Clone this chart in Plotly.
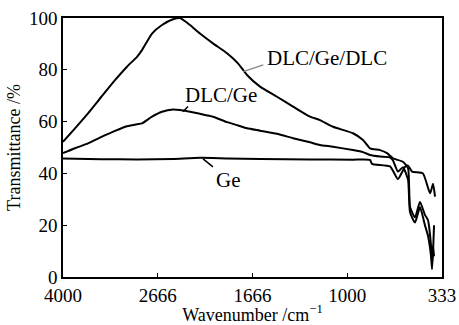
import numpy as np
import plotly.graph_objects as go

# Tick labels (wavenumber, cm^-1), equally spaced on the original axis
tick_wn = [4000, 2666, 1666, 1000, 333]
tick_pos = [0, 1, 2, 3, 4]

# DLC/Ge/DLC
wn_a = [4000, 3831, 3648, 3465, 3268, 3099, 2958, 2888, 2747, 2621, 2505, 2431, 2326, 2220,
        2083, 1935, 1819, 1724, 1613, 1494, 1381, 1262, 1192, 1100, 960, 889, 840, 769, 720,
        678, 608, 572, 558, 523, 488, 453, 432, 410, 403, 396, 389]
t_a = [52.2, 57.4, 63.2, 69.4, 76.0, 81.2, 85.0, 87.6, 94.0, 97.3, 99.5, 100.0, 97.3, 94.0,
       90.2, 86.4, 82.5, 78.0, 73.5, 69.6, 65.8, 61.9, 60.6, 58.0, 55.5, 52.9, 49.7, 49.0, 47.8,
       45.8, 44.5, 42.0, 27.0, 23.0, 29.0, 24.0, 22.0, 12.0, 5.0, 10.0, 20.0]

# DLC/Ge
wn_b = [4000, 3831, 3648, 3465, 3268, 3099, 2958, 2888, 2747, 2621, 2505, 2431, 2326, 2220,
        2083, 1935, 1819, 1724, 1613, 1494, 1381, 1262, 1192, 1100, 960, 889, 840, 769, 699,
        678, 643, 608, 572, 558, 523, 488, 453, 432, 410, 403, 396, 389]
t_b = [47.8, 49.7, 51.6, 54.0, 56.4, 58.2, 59.0, 59.3, 61.9, 63.8, 64.7, 64.5, 63.8, 63.0,
       61.9, 59.8, 58.5, 57.4, 56.5, 55.3, 53.6, 52.0, 51.0, 50.3, 49.0, 48.2, 47.1, 46.5, 46.2,
       45.0, 40.7, 42.4, 37.5, 25.0, 21.0, 27.0, 20.0, 16.0, 8.0, 3.0, 12.0, 8.0]

# Ge
wn_c = [4000, 3465, 2958, 2505, 2220, 1935, 1613, 1262, 960, 840, 826, 699, 643, 593, 572,
        544, 467, 417, 396, 382]
t_c = [45.8, 45.5, 45.4, 45.6, 46.0, 45.8, 45.6, 45.4, 45.3, 45.2, 43.7, 42.7, 37.8, 42.6, 43.0,
       40.7, 40.0, 32.3, 36.0, 31.0]


def pos(wn):
    return np.interp(-np.asarray(wn, dtype=float), -np.asarray(tick_wn, dtype=float), tick_pos)


fig = go.Figure()
for wn, t in [(wn_a, t_a), (wn_b, t_b), (wn_c, t_c)]:
    fig.add_trace(go.Scatter(x=pos(wn), y=t, mode="lines",
                             line=dict(color="black", width=2, shape="spline", smoothing=0.5),
                             showlegend=False, hoverinfo="skip", cliponaxis=False))

tickfont = dict(family="Liberation Serif", size=19, color="black")
tfont = dict(family="Liberation Serif", size=18, color="black")
afont = dict(family="Liberation Serif", size=21, color="black")

fig.add_annotation(x=2.79, y=84.6, text="DLC/Ge/DLC", showarrow=False, font=afont)
fig.add_annotation(x=1.668, y=70.3, text="DLC/Ge", showarrow=False, font=afont)
fig.add_annotation(x=1.747, y=37.5, text="Ge", showarrow=False, font=afont)

fig.add_shape(type="line", x0=1.903, y0=79.3, x1=2.114, y1=81.9,
              line=dict(color="#888888", width=1.5))
fig.add_shape(type="line", x0=1.266, y0=63.8, x1=1.319, y1=65.8,
              line=dict(color="black", width=1.5))
fig.add_shape(type="line", x0=1.478, y0=45.6, x1=1.583, y1=42.5,
              line=dict(color="black", width=1.5))

fig.update_layout(
    width=459, height=325,
    margin=dict(l=63, r=17, t=18, b=48),
    paper_bgcolor="white", plot_bgcolor="white",
    font=tfont,
)
fig.update_xaxes(range=[0, 4], tickvals=tick_pos, ticktext=[str(v) for v in tick_wn],
                 ticks="inside", ticklen=4, tickcolor="black", showgrid=False, zeroline=False,
                 showline=True, linecolor="black", linewidth=1.5, mirror=True,
                 automargin=False, ticklabelstandoff=0,
                 title=dict(text="Wavenumber /cm<sup>−1</sup>", standoff=2, font=tfont),
                 tickfont=tickfont)
fig.update_yaxes(range=[0, 100], tickvals=[0, 20, 40, 60, 80, 100],
                 ticks="inside", ticklen=4, tickcolor="black", showgrid=False, zeroline=False,
                 showline=True, linecolor="black", linewidth=1.5, mirror=True,
                 automargin=False,
                 title=dict(text="Transmittance /%", standoff=4, font=tfont),
                 tickfont=tickfont)

fig.write_html("out.html", config={"displayModeBar": False},
               post_script="document.body.style.margin='0';")
